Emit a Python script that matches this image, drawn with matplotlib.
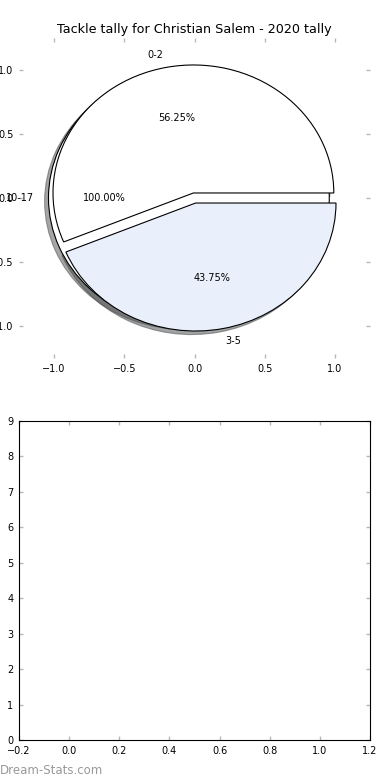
import matplotlib
matplotlib.use("Agg")
import matplotlib.pyplot as plt

title = "Tackle tally for Christian Salem - 2020 tally"
labels_main = ["0-2", "3-5"]
values_main = [9, 7]
labels_back = ["10-17"]
values_back = [1]
colors_main = ["white", "#eaf0fb"]
xticks_bottom = [-0.2, 0.0, 0.2, 0.4, 0.6, 0.8, 1.0, 1.2]
yticks_bottom = list(range(0, 10))
pie_ticks = [-1.0, -0.5, 0.0, 0.5, 1.0]

fig = plt.figure(figsize=(3.9, 7.8), dpi=100)
ax1 = fig.add_axes([19/390, 1-358/780, 351/390, 320/780])
ax2 = fig.add_axes([19/390, 1-740/780, 351/390, 319/780])

wp = dict(edgecolor="black", linewidth=0.8)
tp = dict(fontsize=7)
ax1.pie(values_back, labels=labels_back, colors=["white"], explode=[0.04],
        autopct="%.2f%%", shadow=True, wedgeprops=wp, textprops=tp, frame=True)
ax1.pie(values_main, labels=labels_main, colors=colors_main, explode=[0.04, 0.04],
        autopct="%.2f%%", shadow=True, wedgeprops=wp, textprops=tp, frame=True)
ax1.set_aspect("auto")
ax1.set_xlim(-1.25, 1.25)
ax1.set_ylim(-1.25, 1.25)
ax1.set_xticks(pie_ticks)
ax1.set_yticks(pie_ticks)
for s in ax1.spines.values():
    s.set_visible(False)
ax1.set_title(title, fontsize=9.2, pad=3.5)

ax2.set_xlim(-0.2, 1.2)
ax2.set_ylim(0, 9)
ax2.set_xticks(xticks_bottom)
ax2.set_yticks(yticks_bottom)

for ax in (ax1, ax2):
    ax.tick_params(direction="in", length=3, width=1, color="#b8b8b8",
                   top=True, right=True, labelsize=7, pad=4)

fig.text(0.0, 1-771/780, "Dream-Stats.com", fontsize=8.5, color="#999999",
         ha="left", va="center")

fig.savefig("out.png", dpi=100)
